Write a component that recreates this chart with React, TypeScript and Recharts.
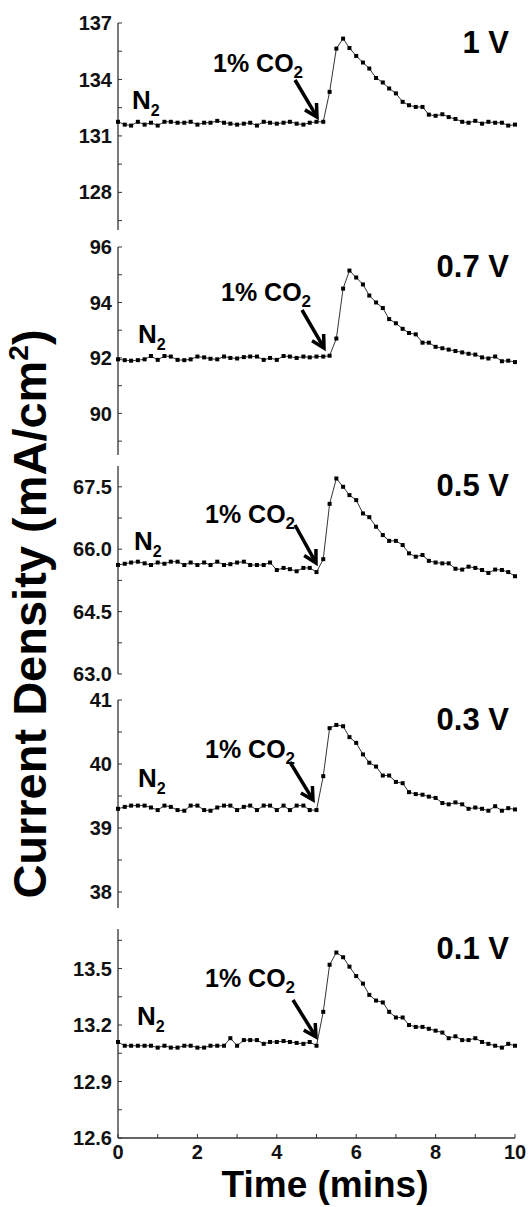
import React from 'react';
import { Line, LineChart, XAxis, YAxis } from 'recharts';

// time in minutes, one reading every ~10 s
const time = [
  0, 0.17, 0.33, 0.5, 0.67, 0.83, 1, 1.17, 1.33, 1.5, 1.67, 1.83, 2, 2.17, 2.33, 2.5, 2.67, 2.83, 3, 3.17,
  3.33, 3.5, 3.67, 3.83, 4, 4.17, 4.33, 4.5, 4.67, 4.83, 5, 5.17, 5.33, 5.5, 5.67, 5.83, 6, 6.17, 6.33, 6.5,
  6.67, 6.83, 7, 7.17, 7.33, 7.5, 7.67, 7.83, 8, 8.17, 8.33, 8.5, 8.67, 8.83, 9, 9.17, 9.33, 9.5, 9.67, 9.83, 10,
];

const v1V = [
  131.75, 131.6, 131.55, 131.75, 131.6, 131.7, 131.55, 131.75, 131.75, 131.7, 131.7, 131.75, 131.6, 131.7, 131.7,
  131.8, 131.7, 131.65, 131.6, 131.65, 131.7, 131.55, 131.75, 131.7, 131.65, 131.7, 131.75, 131.65, 131.6, 131.7,
  131.75, 131.75, 133.34, 135.64, 136.17, 135.67, 135.25, 134.9, 134.58, 134.08, 133.84, 133.52, 133.26, 132.81,
  132.63, 132.54, 132.54, 132.13, 132.07,
  132.15, 132.0, 131.9, 131.75, 131.7, 131.8, 131.65, 131.75, 131.7, 131.7, 131.55, 131.6,
];

const v07V = [
  91.95, 91.92, 91.9, 91.92, 91.95, 92.07, 91.93, 92.07, 92.05, 91.93, 91.92, 91.95, 92.05, 92.02, 91.97, 91.95,
  92.05, 92.0, 91.98, 92.03, 92.05, 92.05, 91.93, 92.0, 91.93, 92.07, 92.05, 92.0, 92.05, 92.02, 92.05,
  92.05, 92.08, 92.7, 94.5, 95.15, 94.9, 94.65, 94.25, 94.0, 93.8, 93.4, 93.25, 93.05, 92.9, 92.85, 92.55, 92.55, 92.4,
  92.35, 92.3, 92.25, 92.2, 92.15, 92.12, 92.02, 91.98, 92.05, 91.88, 91.9, 91.85,
];

const v05V = [
  65.62, 65.65, 65.68, 65.7, 65.66, 65.62, 65.68, 65.65, 65.7, 65.7, 65.62, 65.68, 65.62, 65.68, 65.62, 65.7,
  65.62, 65.64, 65.68, 65.7, 65.62, 65.62, 65.62, 65.68, 65.5, 65.55, 65.52, 65.47, 65.55, 65.55,
  65.45, 65.76, 67.09, 67.7, 67.5, 67.3, 67.18, 66.86, 66.77, 66.54, 66.34, 66.2, 66.2, 66.1, 65.9, 65.82, 65.86,
  65.72, 65.68,
  65.66, 65.66, 65.53, 65.51, 65.58, 65.55, 65.5, 65.43, 65.51, 65.5, 65.45, 65.35,
];

const v03V = [
  39.3, 39.33, 39.35, 39.35, 39.35, 39.32, 39.28, 39.35, 39.33, 39.28, 39.27, 39.35, 39.35, 39.28, 39.27, 39.32,
  39.35, 39.35, 39.28, 39.33, 39.35, 39.28, 39.35, 39.35, 39.28, 39.35, 39.28, 39.35, 39.35, 39.28,
  39.28, 39.81, 40.56, 40.61, 40.59, 40.42, 40.33, 40.15, 40.02, 39.96, 39.82, 39.82, 39.72, 39.7, 39.56, 39.53,
  39.52, 39.49, 39.47, 39.39, 39.37, 39.4, 39.37, 39.3, 39.32, 39.3, 39.27, 39.34, 39.27, 39.31, 39.29,
];

const v01V = [
  13.11, 13.09, 13.09, 13.09, 13.09, 13.09, 13.08, 13.09, 13.08, 13.08, 13.09, 13.09, 13.08, 13.08, 13.09, 13.09,
  13.09, 13.13, 13.09, 13.12, 13.12, 13.12, 13.1, 13.11, 13.11, 13.115, 13.11, 13.105, 13.1, 13.11, 13.09,
  13.27, 13.52, 13.585, 13.56, 13.51, 13.46, 13.42, 13.36, 13.33, 13.32, 13.27, 13.24, 13.24, 13.2, 13.19, 13.19,
  13.18, 13.17, 13.16, 13.13, 13.14, 13.12, 13.12, 13.13, 13.11, 13.1, 13.09, 13.08, 13.1, 13.09,
];

const panelLabels = ['1 V', '0.7 V', '0.5 V', '0.3 V', '0.1 V'];
const panelValues = [v1V, v07V, v05V, v03V, v01V];
const yDomains: [number, number][] = [[126, 137], [88.5, 96], [63, 68], [37.75, 41], [12.6, 13.71]];
const yTicks = [
  [126.5, 128, 129.5, 131, 132.5, 134, 135.5, 137],
  [89, 90, 91, 92, 93, 94, 95, 96],
  [63, 63.75, 64.5, 65.25, 66, 66.75, 67.5],
  [38, 38.5, 39, 39.5, 40, 40.5, 41],
  [12.6, 12.75, 12.9, 13.05, 13.2, 13.35, 13.5, 13.65],
];
const yLabels = [
  [128, 131, 134, 137],
  [90, 92, 94, 96],
  [63, 64.5, 66, 67.5],
  [38, 39, 40, 41],
  [12.6, 12.9, 13.2, 13.5],
];
const yDecimals = [0, 0, 1, 0, 1];
const xTicksFirst = [2.5, 5, 7.5];
const xTicks = [0, 1, 2, 3, 4, 5, 6, 7, 8, 9, 10];
const xLabels = [0, 2, 4, 6, 8, 10];

// page layout (px)
const layout = [
  { top: 23, h: 207, co: [213, 72], n: [132, 109], arrow: [295, 80, 317, 117] },
  { top: 247, h: 208, co: [221, 301], n: [138, 343], arrow: [302, 310, 324, 348] },
  { top: 466, h: 208, co: [205, 523], n: [134, 550], arrow: [295, 525, 316, 563] },
  { top: 700, h: 208, co: [205, 758], n: [138, 787], arrow: [290, 762, 313, 800] },
  { top: 929, h: 209, co: [205, 987], n: [137, 1025], arrow: [293, 1000, 316, 1037] },
];

const FONT = '"Liberation Sans", Arial, Helvetica, sans-serif';
const FRAME = '#333';

function Square(props: any) {
  const { cx, cy, index } = props;
  if (cx == null || cy == null) return <g key={index} />;
  return <rect key={index} x={cx - 2} y={cy - 2} width={4} height={4} fill="#000" />;
}

function Panel({ idx }: { idx: number }) {
  const L = layout[idx];
  const last = idx === 4;
  const data = time.map((t, i) => ({ t, v: panelValues[idx][i] }));
  const labels = yLabels[idx];
  const dec = yDecimals[idx];
  return (
    <div style={{ position: 'absolute', left: 0, top: L.top - 10 }}>
      <LineChart
        width={529}
        height={L.h + 40}
        data={data}
        margin={{ top: 10, right: 14, left: 0, bottom: last ? 0 : 30 }}
      >
        <XAxis
          dataKey="t"
          type="number"
          domain={[0, 10]}
          ticks={idx === 0 ? xTicksFirst : xTicks}
          interval={0}
          height={last ? 30 : 0}
          tickSize={-4}
          tickMargin={last ? 11 : 0}
          tickFormatter={(v: number) => (last && xLabels.includes(v) ? String(v) : '')}
          axisLine={{ stroke: FRAME, strokeWidth: 1.3 }}
          tickLine={{ stroke: FRAME }}
          tick={{ fontSize: 20, fontWeight: 700, fill: '#111', fontFamily: FONT }}
        />
        <XAxis
          xAxisId="top"
          orientation="top"
          dataKey="t"
          type="number"
          domain={[0, 10]}
          height={0}
          tick={false}
          tickLine={false}
          axisLine={{ stroke: FRAME, strokeWidth: 1.3 }}
        />
        <YAxis
          type="number"
          domain={yDomains[idx]}
          ticks={yTicks[idx]}
          interval={0}
          allowDataOverflow
          width={118}
          tickSize={-4}
          tickMargin={10}
          tickFormatter={(v: number) => (labels.includes(v) ? v.toFixed(dec) : '')}
          axisLine={{ stroke: FRAME, strokeWidth: 1.3 }}
          tickLine={{ stroke: FRAME }}
          tick={{ fontSize: 20, fontWeight: 700, fill: '#111', fontFamily: FONT }}
        />
        <YAxis
          yAxisId="right"
          orientation="right"
          type="number"
          domain={yDomains[idx]}
          width={0}
          tick={false}
          tickLine={false}
          axisLine={{ stroke: FRAME, strokeWidth: 1.3 }}
        />
        <Line
          dataKey="v"
          type="linear"
          stroke="#000"
          strokeWidth={0.8}
          dot={Square}
          activeDot={false}
          isAnimationActive={false}
        />
      </LineChart>
    </div>
  );
}

function Arrow({ a }: { a: number[] }) {
  const [x1, y1, x2, y2] = a;
  const dx = x2 - x1;
  const dy = y2 - y1;
  const len = Math.hypot(dx, dy);
  const ux = dx / len;
  const uy = dy / len;
  const hl = 14;
  const ang = 0.5;
  const c = Math.cos(ang);
  const s = Math.sin(ang);
  const h1 = [x2 - hl * (ux * c - uy * s), y2 - hl * (uy * c + ux * s)];
  const h2 = [x2 - hl * (ux * c + uy * s), y2 - hl * (uy * c - ux * s)];
  return (
    <g stroke="#000" strokeWidth={3.5} fill="none">
      <line x1={x1} y1={y1} x2={x2 - ux * 1.5} y2={y2 - uy * 1.5} />
      <polyline points={`${h1[0]},${h1[1]} ${x2},${y2} ${h2[0]},${h2[1]}`} strokeLinejoin="miter" />
    </g>
  );
}

export default function App() {
  return (
    <div style={{ position: 'absolute', left: 0, top: 0, width: 529, height: 1207, background: '#fff' }}>
      {layout.map((_, i) => (
        <Panel key={i} idx={i} />
      ))}
      <svg
        width={529}
        height={1207}
        style={{ position: 'absolute', left: 0, top: 0, pointerEvents: 'none' }}
        fontFamily={FONT}
        fontWeight={700}
        fill="#000"
      >
        {layout.map((L, i) => (
          <g key={i}>
            <text x={509} y={L.top + 30} fontSize={31} textAnchor="end">
              {panelLabels[i]}
            </text>
            <text x={L.co[0]} y={L.co[1]} fontSize={25}>
              1% CO
              <tspan fontSize={17} dy={6}>2</tspan>
            </text>
            <text x={L.n[0]} y={L.n[1]} fontSize={26}>
              N
              <tspan fontSize={16} dy={7}>2</tspan>
            </text>
            <Arrow a={L.arrow} />
          </g>
        ))}
        <text transform="translate(46,614) rotate(-90)" fontSize={47} textAnchor="middle">
          Current Density (mA/cm
          <tspan fontSize={28} dy={-18}>2</tspan>
          <tspan dy={18}>)</tspan>
        </text>
        <text x={325} y={1197} fontSize={37} textAnchor="middle">
          Time (mins)
        </text>
      </svg>
    </div>
  );
}
